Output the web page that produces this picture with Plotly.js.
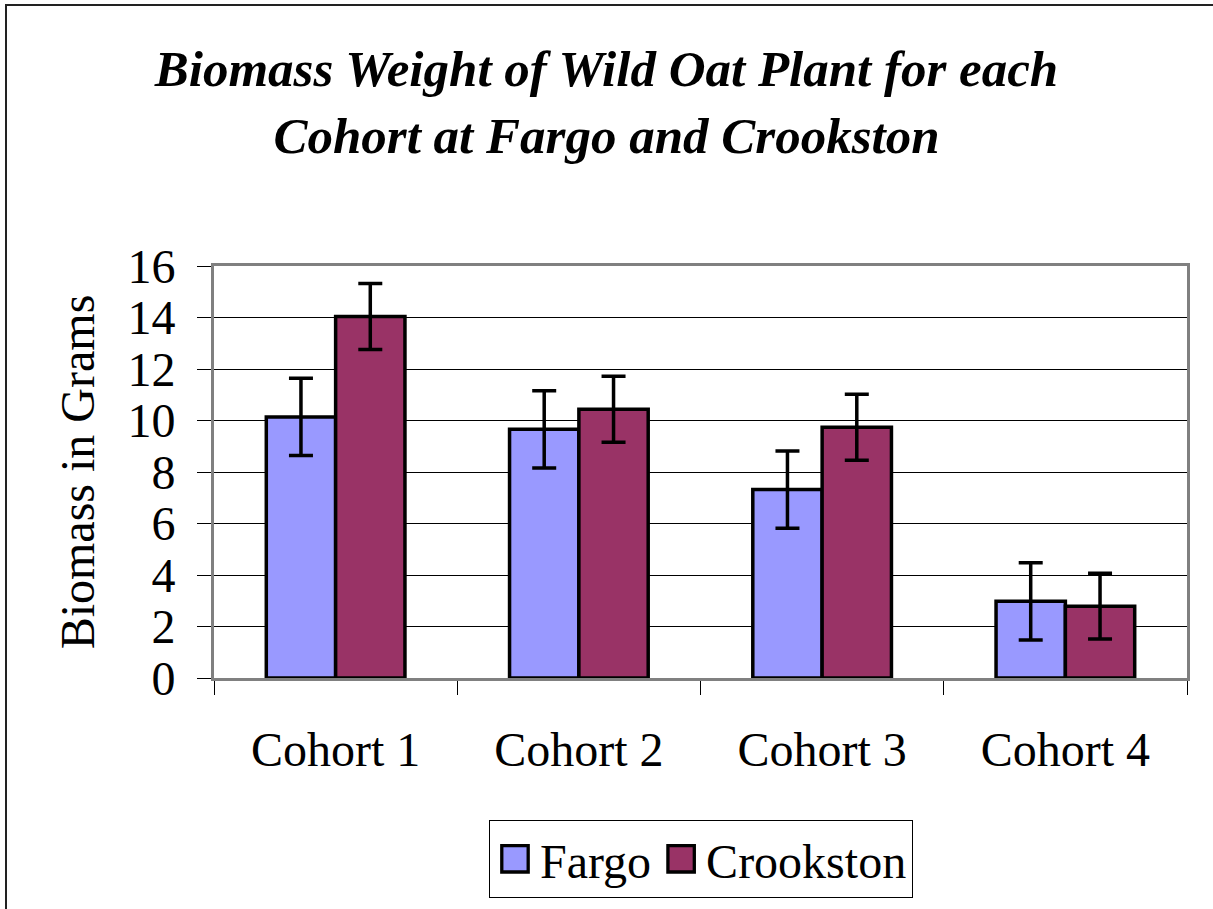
<!DOCTYPE html>
<html>
<head>
<meta charset="utf-8">
<script src="https://cdn.plot.ly/plotly-3.0.1.min.js"></script>
<style>
  html, body { margin: 0; padding: 0; background: #fff; }
  #wrap { position: relative; width: 1213px; height: 909px; overflow: hidden; }
  #chart { width: 1213px; height: 909px; }
  #frame { position: absolute; left: 5px; top: 4px; width: 1300px; height: 1000px;
           border-left: 2px solid #222; border-top: 2px solid #222; pointer-events: none; }
</style>
</head>
<body>
<div id="wrap">
  <div id="chart"></div>
  <div id="frame"></div>
</div>
<script>
const categories = ['Cohort 1', 'Cohort 2', 'Cohort 3', 'Cohort 4'];
const fargo = [10.14, 9.66, 7.32, 2.98];
const crookston = [14.04, 10.44, 9.74, 2.79];
const fargoErr = [1.5, 1.5, 1.5, 1.5];
const crookstonErr = [1.28, 1.28, 1.28, 1.28];
const seriesNames = ['Fargo', 'Crookston'];
const yTicks = [0, 2, 4, 6, 8, 10, 12, 14, 16];

const FONT = 'Liberation Serif, Times New Roman, serif';
const FS = 48;

const traces = [
  {
    type: 'bar', name: seriesNames[0], x: categories, y: fargo,
    marker: { color: '#9999FF', line: { color: '#000', width: 3.5 } },
    error_y: { type: 'data', array: fargoErr, visible: true, color: '#000', thickness: 3.5, width: 12 }
  },
  {
    type: 'bar', name: seriesNames[1], x: categories, y: crookston,
    marker: { color: '#993366', line: { color: '#000', width: 3.5 } },
    error_y: { type: 'data', array: crookstonErr, visible: true, color: '#000', thickness: 3.5, width: 12 }
  }
];

const layout = {
  width: 1213, height: 909,
  margin: { l: 214, r: 26, t: 266, b: 231, autoexpand: false },
  paper_bgcolor: '#fff', plot_bgcolor: '#fff',
  font: { family: FONT, color: '#000', size: FS },
  barmode: 'group', bargap: 0.43, bargroupgap: 0,
  title: {
    text: '<b><i>Biomass Weight of Wild Oat Plant for each<br>Cohort at Fargo and Crookston</i></b>',
    font: { family: FONT, size: 51, color: '#000' },
    x: 0.5, xref: 'container', xanchor: 'center',
    y: 0.905, yref: 'container', yanchor: 'top'
  },
  xaxis: {
    type: 'category', automargin: false,
    showline: true, linecolor: '#808080', linewidth: 3, mirror: true,
    ticks: 'outside', tickson: 'boundaries', ticklen: 14, tickcolor: '#000', tickwidth: 1,
    tickfont: { family: FONT, size: FS, color: '#000' },
    ticklabelstandoff: 27,
    showgrid: false, zeroline: false
  },
  yaxis: {
    automargin: false,
    range: [0, 16], tickvals: yTicks, ticktext: yTicks.map(String),
    showline: true, linecolor: '#808080', linewidth: 3, mirror: true,
    ticks: 'outside', ticklen: 14, tickcolor: '#000', tickwidth: 1,
    tickfont: { family: FONT, size: FS, color: '#000' },
    ticklabelstandoff: 12,
    showgrid: true, gridcolor: '#000', gridwidth: 1,
    zeroline: false,
    title: { text: 'Biomass in Grams', font: { family: FONT, size: FS, color: '#000' }, standoff: 18 }
  },
  legend: {
    orientation: 'h', x: 0.5005, xanchor: 'center',
    y: 0.012, yref: 'container', yanchor: 'bottom',
    bordercolor: '#000', borderwidth: 1, bgcolor: '#fff',
    font: { family: FONT, size: FS, color: '#000' },
    itemwidth: 40, tracegroupgap: 0
  },
  showlegend: true
};

Plotly.newPlot('chart', traces, layout, { displayModeBar: false, staticPlot: true }).then(function (gd) {
  gd.querySelectorAll('.legend .legendpoints path').forEach(function (p) {
    const t = p.getAttribute('transform') || '';
    p.setAttribute('transform', t + ' scale(2.2)');
    p.style.strokeWidth = '1.5px';
  });
});
</script>
</body>
</html>
